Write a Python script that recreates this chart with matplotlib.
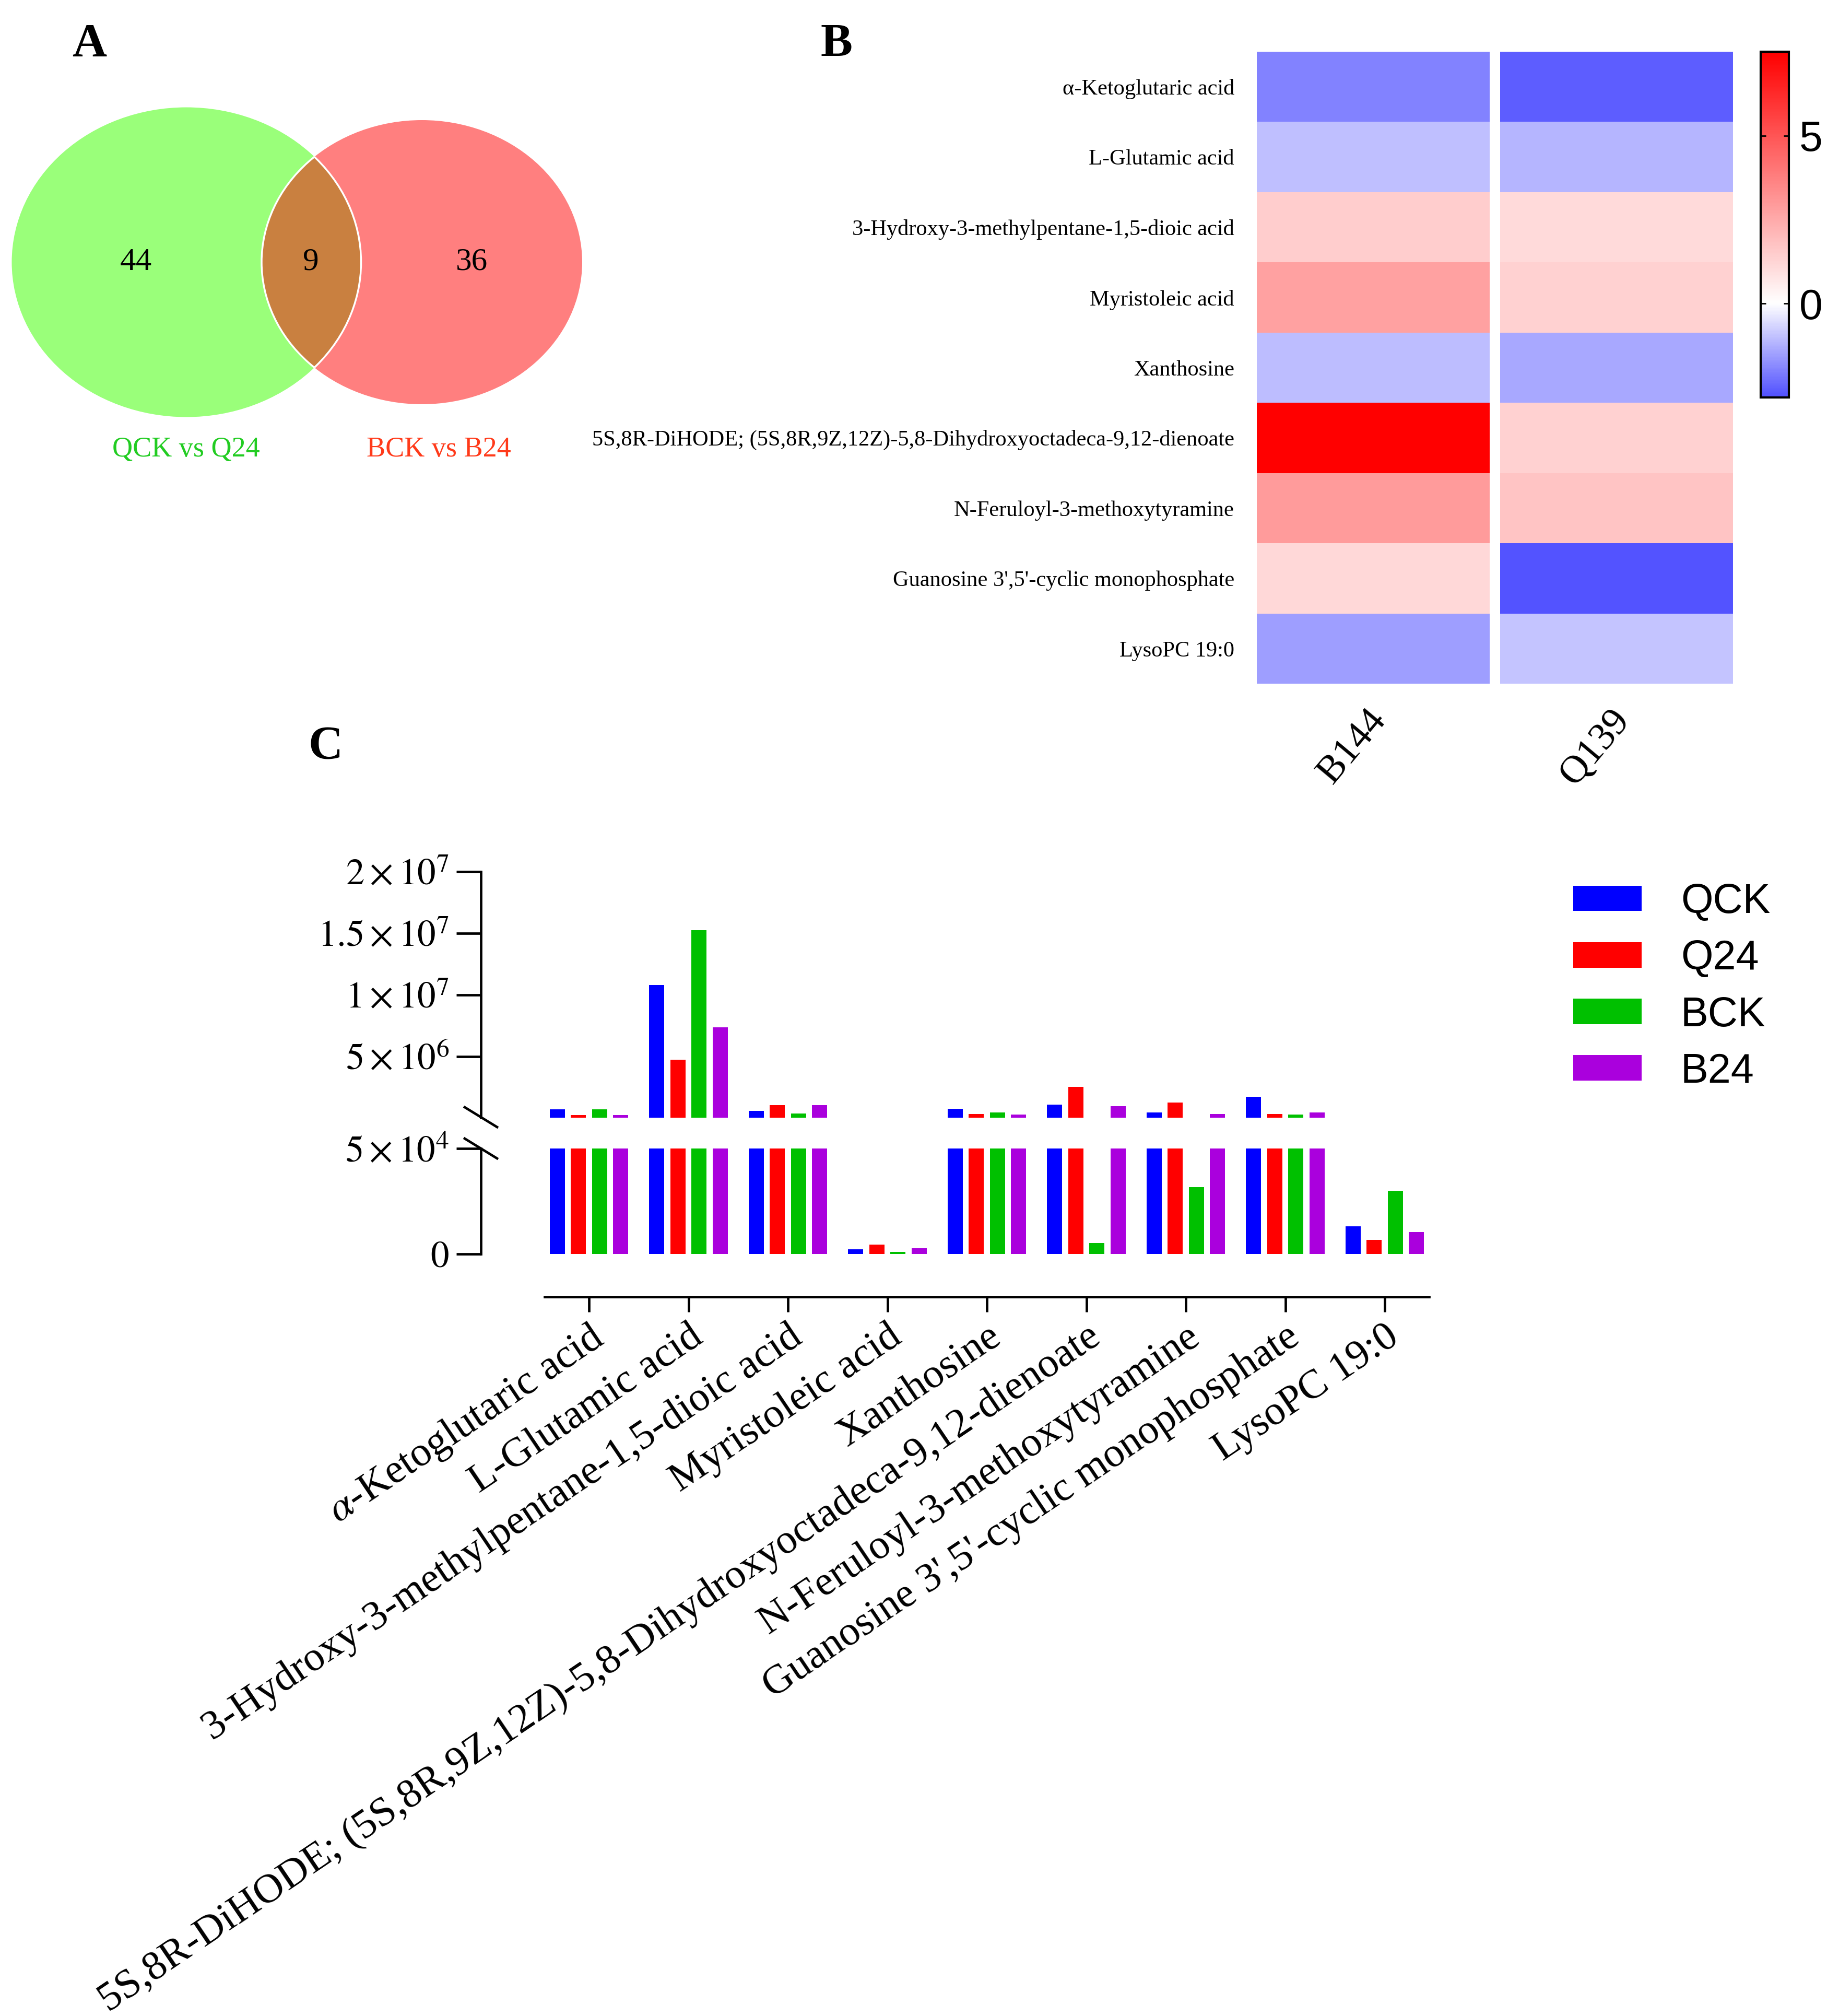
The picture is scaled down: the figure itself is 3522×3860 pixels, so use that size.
import numpy as np
import matplotlib.pyplot as plt
from matplotlib.patches import Ellipse
from matplotlib.colors import LinearSegmentedColormap, Normalize

W, H = 3522, 3860
plt.rcParams['font.family'] = ['Liberation Serif', 'DejaVu Serif']
plt.rcParams['mathtext.fontset'] = 'stix'

# ---- data ----
metabolites = ['α-Ketoglutaric acid', 'L-Glutamic acid',
               '3-Hydroxy-3-methylpentane-1,5-dioic acid', 'Myristoleic acid',
               'Xanthosine',
               '5S,8R-DiHODE; (5S,8R,9Z,12Z)-5,8-Dihydroxyoctadeca-9,12-dienoate',
               'N-Feruloyl-3-methoxytyramine',
               "Guanosine 3',5'-cyclic monophosphate", 'LysoPC 19:0']

venn_sets = ['QCK vs Q24', 'BCK vs B24']
venn_counts = [44, 9, 36]  # only left, shared, only right

heat_cols = ['B144', 'Q139']
fc_B144 = [-1.99, -0.99, 1.47, 2.79, -1.04, 7.5, 2.94, 1.18, -1.53]
fc_Q139 = [-2.59, -1.17, 1.09, 1.38, -1.37, 1.38, 1.74, -2.75, -0.94]

groups = ['QCK', 'Q24', 'BCK', 'B24']
QCK = [7.1e5, 1.08e7, 5.8e5, 2.2e3, 7.9e5, 1.12e6, 4.8e5, 1.74e6, 1.30e4]
Q24 = [2.5e5, 4.77e6, 1.05e6, 4.4e3, 3.5e5, 2.53e6, 1.28e6, 3.5e5, 6.7e3]
BCK = [7.1e5, 1.526e7, 4.1e5, 1.0e3, 4.8e5, 5.2e3, 3.17e4, 3.0e5, 2.99e4]
B24 = [2.5e5, 7.39e6, 1.05e6, 2.6e3, 3.25e5, 9.95e5, 3.5e5, 4.8e5, 1.04e4]
bar_colors = ['#0000FF', '#FF0000', '#00C000', '#AA00DD']

fig = plt.figure(figsize=(W / 100, H / 100), dpi=100)


def px_axes(x0, y0, x1, y1):
    # axes from a box given in figure pixels (top-left origin)
    return fig.add_axes([x0 / W, 1 - y1 / H, (x1 - x0) / W, (y1 - y0) / H])


# ---- A: venn ----
ax_v = px_axes(0, 150, 1160, 920)
ax_v.set_xlim(0, 1160)
ax_v.set_ylim(920, 150)
ax_v.axis('off')
g_geom = ((357, 502), 669, 593)
r_geom = ((808, 502), 614, 544)
green = Ellipse(*g_geom, fc='#9AFF7A', ec='none')
red = Ellipse(*r_geom, fc='#FF7F7F', ec='none')
ax_v.add_patch(green)
ax_v.add_patch(red)
lens = Ellipse(*g_geom, fc='#C98040', ec='none')
ax_v.add_patch(lens)
lens.set_clip_path(red)
e1 = Ellipse(*g_geom, fc='none', ec='white', lw=2.5)
ax_v.add_patch(e1)
e1.set_clip_path(red)
e2 = Ellipse(*r_geom, fc='none', ec='white', lw=2.5)
ax_v.add_patch(e2)
e2.set_clip_path(green)
for xpos, n in zip([260, 595, 904], venn_counts):
    ax_v.text(xpos, 502, str(n), fontsize=44, ha='center', va='center')
ax_v.text(356, 861, venn_sets[0], fontsize=39, color='#22CC22', ha='center', va='center')
ax_v.text(840, 861, venn_sets[1], fontsize=39, color='#FF3A1A', ha='center', va='center')

# ---- B: heatmap ----
ax_h = px_axes(2407, 99, 3319, 1309)
vmin, vmax = -2.8, 7.5
cmap = LinearSegmentedColormap.from_list(
    'gp', [(0, '#5050FF'), (-vmin / (vmax - vmin), '#FFFFFF'), (1, '#FF0000')])
norm = Normalize(vmin=vmin, vmax=vmax)
gap = 21 / 446
rows = np.arange(len(metabolites) + 1)
for j, vals in enumerate([fc_B144, fc_Q139]):
    x0 = j * (1 + gap)
    mesh = ax_h.pcolormesh([x0, x0 + 1], rows, np.array(vals)[:, None], cmap=cmap, norm=norm)
ax_h.set_xlim(0, 2 + gap)
ax_h.set_ylim(len(metabolites), 0)
ax_h.set_yticks(rows[:-1] + 0.5, metabolites, fontsize=30.5)
ax_h.set_xticks([0.53, 1.53 + gap], heat_cols, fontsize=54, rotation=50,
                ha='right', va='center', rotation_mode='anchor')
ax_h.tick_params(length=0)
ax_h.tick_params(axis='y', pad=31)
ax_h.tick_params(axis='x', pad=42)
for s in ax_h.spines.values():
    s.set_visible(False)

cax = px_axes(3372, 99, 3426, 761)
cb = fig.colorbar(mesh, cax=cax, ticks=[0, 5])
cb.outline.set_linewidth(3)
cax.yaxis.set_ticks_position('both')
cax.tick_params(direction='in', length=7, width=2, labelsize=58, pad=14)
for t in cax.get_yticklabels():
    t.set_family('Liberation Sans')

# ---- C: broken-axis bar chart ----
x = np.arange(len(metabolites))
ax_up = px_axes(921, 1669, 2737, 2140)
ax_lo = px_axes(921, 2199, 2737, 2401)
width, step = 0.152, 0.213
for k, (name, vals, col) in enumerate(zip(groups, [QCK, Q24, BCK, B24], bar_colors)):
    off = (k - 1.5) * step
    ax_up.bar(x + off, vals, width, color=col, label=name)
    ax_lo.bar(x + off, vals, width, color=col)

lw = 3.4
for ax in (ax_up, ax_lo):
    ax.set_xlim(-1.087, 8.446)
    ax.spines['top'].set_visible(False)
    ax.spines['right'].set_visible(False)
    ax.spines['left'].set_linewidth(lw)
    ax.tick_params(axis='y', length=34, width=lw, pad=10, labelsize=51)
ax_up.set_ylim(5e4, 2e7)
ax_up.spines['bottom'].set_visible(False)
ax_up.set_xticks([])
ax_up.set_yticks([5e6, 1e7, 1.5e7, 2e7],
                 [r'$5\times10^{6}$', r'$1\times10^{7}$', r'$1.5\times10^{7}$', r'$2\times10^{7}$'])
ax_lo.set_ylim(0, 5e4)
ax_lo.set_yticks([0, 5e4], [r'$0$', r'$5\times10^{4}$'])
ax_lo.spines['bottom'].set_position(('outward', 59))
ax_lo.spines['bottom'].set_bounds(-0.446, 8.446)
ax_lo.spines['bottom'].set_linewidth(lw)
bar_labels = [m.replace('α', r'$\alpha$') for m in metabolites]
ax_lo.set_xticks(x, bar_labels, rotation=34, ha='right', va='top',
                 rotation_mode='anchor', fontsize=57)
ax_lo.tick_params(axis='x', length=21, width=lw, pad=8)

# break marks
for yb in (2139, 2199):
    fig.add_artist(plt.Line2D([890 / W, 952 / W], [1 - (yb - 19) / H, 1 - (yb + 19) / H],
                              color='black', lw=lw, transform=fig.transFigure))

handles, labels = ax_up.get_legend_handles_labels()
fig.legend(handles, labels, loc='upper left', bbox_to_anchor=(3013 / W, 1 - 1690 / H),
           frameon=False, prop={'family': 'Liberation Sans', 'size': 57},
           handlelength=1.66, handleheight=0.57, handletextpad=0.94,
           labelspacing=0.42, borderpad=0, borderaxespad=0)

# panel letters
for lab, (px, py) in zip('ABC', [(171, 86), (1602, 86), (624, 1431)]):
    fig.text(px / W, 1 - py / H, lab, fontsize=66, fontweight='bold', ha='center', va='center')

fig.savefig('out.png', dpi=100)
